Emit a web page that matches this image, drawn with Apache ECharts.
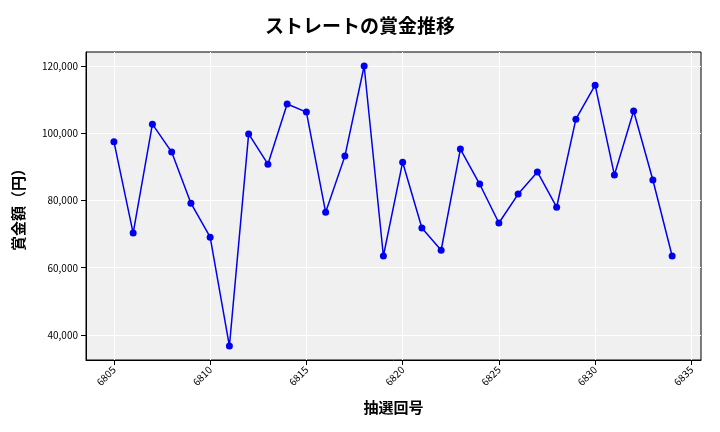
<!DOCTYPE html>
<html><head><meta charset="utf-8">
<script src="https://cdn.jsdelivr.net/npm/echarts@6/dist/echarts.min.js"></script>
<style>html,body{margin:0;padding:0;background:#fff}#c{width:720px;height:432px}</style>
</head><body><div id="c"></div>
<script>
const draws = [6805,6806,6807,6808,6809,6810,6811,6812,6813,6814,6815,6816,6817,6818,6819,6820,6821,6822,6823,6824,6825,6826,6827,6828,6829,6830,6831,6832,6833,6834];
const prizes = [97500,70300,102700,94400,79200,69100,36700,99800,90800,108700,106300,76500,93200,120000,63500,91400,71800,65200,95300,84900,73300,81900,88500,78000,104200,114300,87600,106600,86100,63500];
const xTicks = [6805,6810,6815,6820,6825,6830,6835];
const yTicks = [40000,60000,80000,100000,120000];
const font = '"Noto Sans CJK JP", "Noto Sans", sans-serif';
const chart = echarts.init(document.getElementById('c'));
chart.setOption({
  backgroundColor:'#fff',
  title:{text:'ストレートの賞金推移',left:'center',top:11,textStyle:{fontFamily:font,fontSize:19,fontWeight:'bold',color:'#000'}},
  grid:{left:86,right:19,top:52,bottom:72,show:true,backgroundColor:'#f0f0f0',borderWidth:1,borderColor:'#000'},
  xAxis:{type:'value',min:6803.55,max:6835.5,name:'抽選回号',nameLocation:'middle',nameGap:40,
    nameTextStyle:{fontFamily:font,fontSize:15,fontWeight:'bold',color:'#000'},
    axisLine:{show:true,lineStyle:{color:'#000'}},
    axisTick:{show:true,customValues:xTicks,lineStyle:{color:'#000'}},
    axisLabel:{customValues:xTicks,rotate:45,fontSize:10,color:'#000',fontFamily:font,formatter:v=>String(v)},
    splitLine:{show:true,lineStyle:{color:'#fff',width:1}}},
  yAxis:{type:'value',min:32560,max:124170,name:'賞金額（円）',nameLocation:'middle',nameGap:60,
    nameTextStyle:{fontFamily:font,fontSize:15,fontWeight:'bold',color:'#000'},
    axisLine:{show:true,lineStyle:{color:'#000'}},
    axisTick:{show:true,customValues:yTicks,lineStyle:{color:'#000'}},
    axisLabel:{customValues:yTicks,fontSize:10,color:'#000',fontFamily:font,formatter:v=>v.toLocaleString('en-US')},
    splitLine:{show:true,lineStyle:{color:'#fff',width:1}}},
  series:[{type:'line',data:draws.map((d,i)=>[d,prizes[i]]),symbol:'circle',symbolSize:7,
    lineStyle:{color:'#0000ee',width:1.5},itemStyle:{color:'#0000ee'}}]
});
</script></body></html>
